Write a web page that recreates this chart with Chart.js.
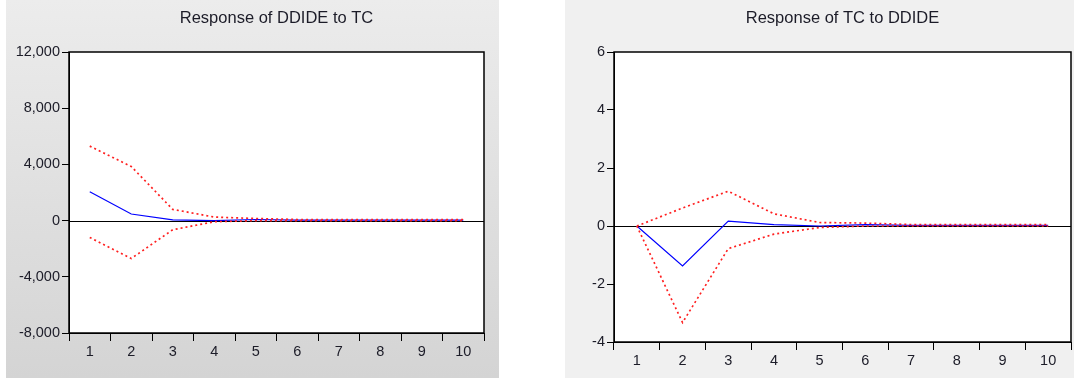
<!DOCTYPE html>
<html>
<head>
<meta charset="utf-8">
<script src="https://cdn.jsdelivr.net/npm/chart.js@4/dist/chart.umd.min.js"></script>
<style>
  body { margin:0; background:#fff; width:1074px; height:380px; overflow:hidden; }
  .panel { position:absolute; top:0; height:378px; }
  #p1 { left:6px; width:493px; background:linear-gradient(#ececec, #d4d4d4); }
  #p2 { left:565px; width:509px; background:#f0f0f0; }
</style>
</head>
<body>
<div class="panel" id="p1"><canvas id="c1" width="493" height="378"></canvas></div>
<div class="panel" id="p2"><canvas id="c2" width="509" height="378"></canvas></div>
<script>
// ===== IMPULSE RESPONSES =====
const periods = ['1','2','3','4','5','6','7','8','9','10'];

// Response of DDIDE to TC
const ddideResp  = [2050, 470, 50, 0, 80, 30, 30, 30, 30, 30];
const ddideUpper = [5300, 3850, 800, 250, 150, 80, 80, 80, 80, 80];
const ddideLower = [-1200, -2700, -650, -80, 0, 0, 0, 0, 0, 0];
const ddideTicks = [12000, 8000, 4000, 0, -4000, -8000];

// Response of TC to DDIDE
const tcResp  = [0, -1.38, 0.17, 0.05, 0, 0.05, 0.02, 0.02, 0.02, 0.02];
const tcUpper = [0, 0.62, 1.2, 0.42, 0.12, 0.1, 0.05, 0.05, 0.05, 0.05];
const tcLower = [0, -3.33, -0.78, -0.28, -0.05, 0, 0, 0, 0, 0];
const tcTicks = [6, 4, 2, 0, -2, -4];

const FONT = "'Liberation Sans', Arial, sans-serif";
const TXT = '#1c1c28';

// white plot area, frame, zero line, title centred over the plot
const framePlugin = {
  id: 'frame',
  beforeDraw(chart) {
    const {ctx, chartArea:a} = chart;
    ctx.save();
    ctx.fillStyle = '#fff';
    ctx.fillRect(a.left, a.top, a.right - a.left, a.bottom - a.top);
    ctx.fillStyle = TXT;
    ctx.font = '16.5px ' + FONT;
    ctx.textAlign = 'center'; ctx.textBaseline = 'middle';
    ctx.fillText(chart.options.plugins.frame.title, (a.left + a.right) / 2, 18);
    ctx.restore();
  },
  beforeDatasetsDraw(chart) {
    const {ctx, chartArea:a, scales} = chart;
    const y0 = Math.round(scales.y.getPixelForValue(0)) + 0.5;
    ctx.save();
    ctx.strokeStyle = '#000'; ctx.lineWidth = 1;
    ctx.beginPath(); ctx.moveTo(a.left, y0); ctx.lineTo(a.right, y0); ctx.stroke();
    ctx.restore();
  },
  afterDraw(chart) {
    const {ctx, chartArea:a} = chart;
    ctx.save();
    ctx.strokeStyle = '#000'; ctx.lineWidth = 1.5;
    ctx.strokeRect(a.left, a.top, a.right - a.left, a.bottom - a.top);
    ctx.restore();
  }
};

function makeChart(id, title, resp, upper, lower, ticks, cfg) {
  const ds = (data, color, dash, w) => ({
    data, borderColor: color, borderWidth: w, borderDash: dash,
    pointRadius: 0, tension: 0, fill: false
  });
  return new Chart(document.getElementById(id), {
    type: 'line',
    data: {
      labels: periods,
      datasets: [
        ds(upper, '#ff2020', [2,3], 1.7),
        ds(lower, '#ff2020', [2,3], 1.7),
        ds(resp, '#0000ff', [], 1.2)
      ]
    },
    plugins: [framePlugin],
    options: {
      responsive: false, animation: false,
      layout: { padding: { left: 0, right: cfg.right, top: 52, bottom: 0 } },
      plugins: {
        legend: { display: false }, tooltip: { enabled: false },
        frame: { title }
      },
      scales: {
        x: {
          offset: true,
          grid: { offset: true, drawOnChartArea: false, color: '#000', tickLength: 8 },
          border: { color: '#000' },
          ticks: { color: TXT, font: { family: FONT, size: 14.5 }, padding: 2, maxRotation: 0 },
          afterFit: s => { s.height = cfg.xh; }
        },
        y: {
          min: ticks[ticks.length-1], max: ticks[0],
          afterBuildTicks: s => { s.ticks = ticks.map(v => ({ value: v })); },
          grid: { drawOnChartArea: false, color: '#000', tickLength: 7 },
          border: { color: '#000' },
          ticks: { color: TXT, font: { family: FONT, size: 14.5 }, padding: 2,
            callback: v => v.toLocaleString('en-US') },
          afterFit: s => { s.width = cfg.yw; }
        }
      }
    }
  });
}

makeChart('c1', 'Response of DDIDE to TC', ddideResp, ddideUpper, ddideLower, ddideTicks,
  { right: 15, xh: 45, yw: 63 });
makeChart('c2', 'Response of TC to DDIDE', tcResp, tcUpper, tcLower, tcTicks,
  { right: 3, xh: 36, yw: 49 });
</script>
</body>
</html>
